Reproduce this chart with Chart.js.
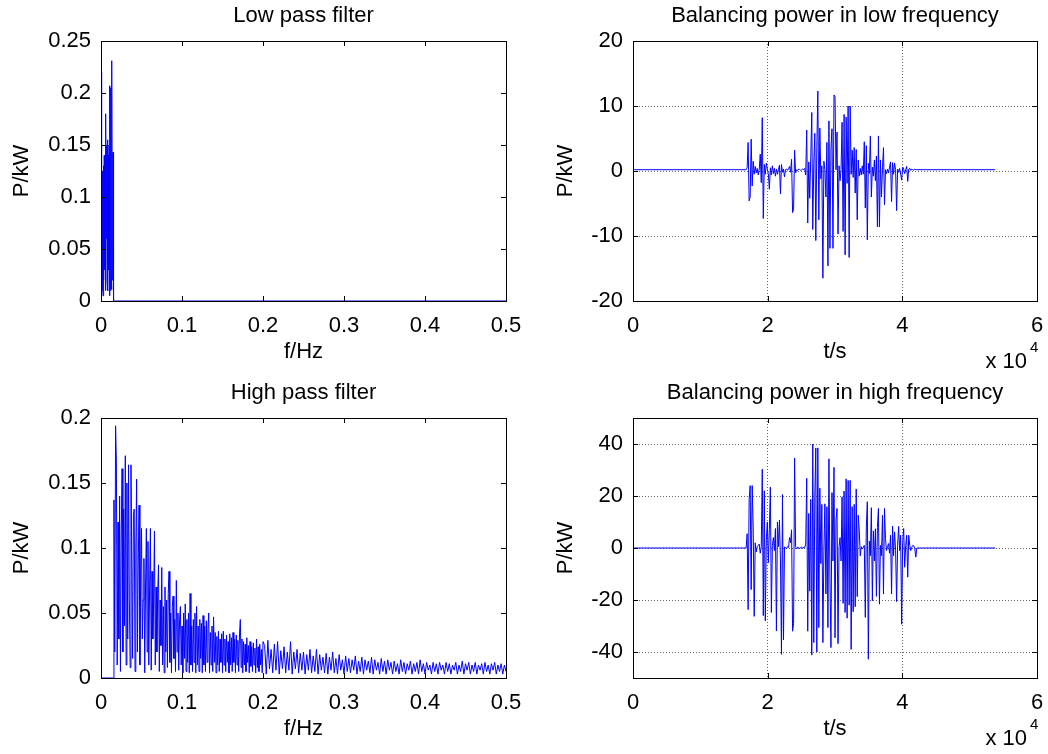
<!DOCTYPE html>
<html>
<head>
<meta charset="utf-8">
<title>Low / high pass filter balancing power</title>
<script src="https://cdn.jsdelivr.net/npm/chart.js@4.4.0/dist/chart.umd.min.js"></script>
<style>
  body { margin: 0; background: #fff; }
  #wrap { position: relative; width: 1048px; height: 754px; }
  canvas { position: absolute; }
</style>
</head>
<body>
<div id="wrap">
  <canvas id="lowSpec" width="524" height="377" style="left:0;top:0"></canvas>
  <canvas id="lowTime" width="524" height="377" style="left:524px;top:0"></canvas>
  <canvas id="highSpec" width="524" height="377" style="left:0;top:377px"></canvas>
  <canvas id="highTime" width="524" height="377" style="left:524px;top:377px"></canvas>
</div>
<script>
// low pass filter spectrum (P/kW), one value every 0.0005 Hz from 0 Hz, zero afterwards
const lowSpecStep = 0.0005;
const lowSpecValues = [
  0.22, 0.005, 0.126, 0.01, 0.125, 0.005, 0.13, 0.02, 0.14, 0.03,
  0.14, 0.01, 0.18, 0.06, 0.15, 0.02, 0.155, 0.01, 0.14, 0.03,
  0.15, 0.005, 0.207, 0.01, 0.205, 0.03, 0.011, 0.231, 0.02, 0.143,
  0.143, 0
];
const specEnd = 0.5;

// high pass filter spectrum (P/kW): every 0.001 Hz from 0.014 Hz up to 0.2 Hz,
// then every 0.002 Hz from 0.202 Hz up to 0.5 Hz
const highSpecStart = 0.014;
const highSpecStep = 0.001;
const highSpecValues = [
  0, 0, 0.137, 0.02, 0.194, 0.167, 0.01, 0.12, 0.03, 0.14,
  0.005, 0.11, 0.161, 0.02, 0.13, 0.04, 0.171, 0.01, 0.15, 0.03,
  0.164, 0.06, 0.008, 0.164, 0.09, 0.015, 0.125, 0.13, 0.005, 0.1,
  0.153, 0.02, 0.09, 0.133, 0.01, 0.08, 0.115, 0.03, 0.06, 0.092,
  0.004, 0.07, 0.115, 0.02, 0.105, 0.01, 0.07, 0.115, 0.006, 0.082,
  0.03, 0.06, 0.113, 0.01, 0.07, 0.02, 0.065, 0.087, 0.005, 0.06,
  0.025, 0.085, 0.01, 0.055, 0.004, 0.07, 0.02, 0.06, 0.008, 0.065,
  0.082, 0.012, 0.05, 0.004, 0.055, 0.063, 0.015, 0.045, 0.005, 0.075,
  0.02, 0.05, 0.006, 0.045, 0.055, 0.01, 0.04, 0.004, 0.05, 0.015,
  0.057, 0.005, 0.045, 0.012, 0.05, 0.004, 0.065, 0.01, 0.04, 0.005,
  0.045, 0.012, 0.05, 0.004, 0.055, 0.01, 0.04, 0.005, 0.045, 0.015,
  0.042, 0.004, 0.048, 0.01, 0.04, 0.005, 0.044, 0.012, 0.038, 0.05,
  0.004, 0.035, 0.01, 0.04, 0.005, 0.047, 0.012, 0.035, 0.004, 0.032,
  0.01, 0.036, 0.005, 0.03, 0.012, 0.034, 0.004, 0.036, 0.01, 0.03,
  0.005, 0.033, 0.012, 0.028, 0.004, 0.034, 0.01, 0.031, 0.005, 0.035,
  0.012, 0.03, 0.004, 0.033, 0.01, 0.029, 0.005, 0.034, 0.045, 0.008,
  0.03, 0.004, 0.028, 0.01, 0.026, 0.005, 0.031, 0.012, 0.025, 0.004,
  0.028, 0.009, 0.024, 0.005, 0.027, 0.01, 0.023, 0.004, 0.03, 0.008,
  0.024, 0.005, 0.026, 0.01, 0.022, 0.004, 0.028
];
const highTailStart = 0.202;
const highTailStep = 0.002;
const highTailValues = [
  0.025, 0.003, 0.029, 0.007, 0.022, 0.004, 0.026,
  0.006, 0.028, 0.003, 0.021, 0.007, 0.024, 0.004, 0.02, 0.006, 0.028,
  0.003, 0.02, 0.007, 0.022, 0.004, 0.019, 0.006, 0.02, 0.003, 0.018,
  0.006, 0.022, 0.004, 0.017, 0.005, 0.022, 0.003, 0.018, 0.006, 0.016,
  0.004, 0.019, 0.003, 0.016, 0.006, 0.02, 0.004, 0.015, 0.003, 0.018,
  0.006, 0.014, 0.003, 0.017, 0.005, 0.015, 0.004, 0.014, 0.006, 0.017,
  0.003, 0.013, 0.005, 0.016, 0.003, 0.014, 0.006, 0.013, 0.004, 0.016,
  0.003, 0.014, 0.006, 0.012, 0.003, 0.015, 0.005, 0.013, 0.003, 0.014,
  0.006, 0.012, 0.003, 0.013, 0.005, 0.011, 0.003, 0.014, 0.005, 0.012,
  0.003, 0.011, 0.006, 0.013, 0.003, 0.011, 0.005, 0.012, 0.003, 0.014,
  0.005, 0.011, 0.003, 0.012, 0.006, 0.01, 0.003, 0.012, 0.005, 0.011,
  0.003, 0.012, 0.006, 0.01, 0.003, 0.012, 0.005, 0.011, 0.003, 0.01,
  0.006, 0.012, 0.003, 0.01, 0.005, 0.013, 0.003, 0.011, 0.006, 0.012,
  0.003, 0.01, 0.005, 0.012, 0.003, 0.01, 0.006, 0.011, 0.003, 0.012,
  0.005, 0.01, 0.003, 0.011, 0.006, 0.012, 0.003, 0.01, 0.005, 0.011,
  0.003, 0.01, 0.005
];

// balancing power (P/kW) over time; flat outside the active window,
// one value every 150 s inside it
const timeEnd = 53800;
const activeStart = 16800;
const activeStep = 150;
const lowBase = 0.2;
const lowPower = [
  0.2, 0.5, 4.4, -4.6, -4, 4.9, -2.3, 1.5, -0.5, 0.7,
  -0.3, 0.4, -0.6, 0.3, 2.6, -1.8, 8.2, -7.3, 1.0, -0.5,
  1.2, 0.3, -0.4, -2.8, 0.5, -0.6, 0.8, -0.4, 0.4, -0.8,
  0.3, -0.5, 0.2, 0.9, -3.5, 1, -0.2, 0.3, -0.9, 0.2,
  0.3, 0.1, 0.4, 0.7, -0.2, 1.8, -6.4, -5.9, 3.2, -0.3,
  0.2, 0.1, 0.3, 0.2, 0.1, 0.2, 0.3, 0.2, 0.4, -0.6,
  6.3, -8, 1.4, -4.2, 2.1, 9, -9, 1.2, 5.8, -10.7,
  3.5, 12.3, -7.5, 6.6, -1.2, 0.8, -16.5, 1.5, 0.2, -4,
  4.4, -14.6, 7.7, -11.9, 3.5, 6.5, -11.9, 11.7, 11.5, 0.2,
  6, -9.7, 0.8, -1.5, 0.2, 7.5, -9.3, 8.7, -12.9, 8.3,
  -1.9, 10, -13.3, 10, -0.5, 3.2, -1, 3.6, -3.4, 3.3,
  -7.5, 1.7, -0.8, 0.4, -0.6, 0.8, -0.5, 4.5, -5.7, 3.9,
  -10.6, 1.2, -0.4, 5.4, -4, 0.6, -0.8, 1.7, -1.5, 2.3,
  -8.6, 5.4, -8.6, 1.7, -4, 0.5, 3.6, -5.2, 0.2, -0.4,
  0.3, -0.3, 0.6, 1.4, -4.7, 1.3, -0.5, 1.2, 0.2, -6.1,
  0.3, -0.2, 0.4, -0.5, -1.4, 0.6, 0.3, -0.4, 0.2, 0.7,
  -1.6, 0.3, 0.4, 0.1, 0.3, 0.2, 0.1, 0.3, 0.2, 0.2
];
const highBase = 0;
const highPower = [
  0, 5.5, -23.7, 18.7, 24, -16, 24, 8, -26.3, 2,
  -1.5, 0.5, 1, 1.5, -2, 0.5, 30.3, -26, 22, -28,
  3, 10, -5.7, 7, 23.4, -24.8, 1, 4, -1, 7.5,
  -31.9, 10, 0.5, 10.7, -5, -40.9, 20.6, -35.4, 0.4, 0.2,
  -0.3, 0.5, 0.2, 4, 2, 7, -32, -29, 34.6, 0.5,
  -0.4, 0.3, 0.2, -0.3, 0.2, 0.4, -0.2, 0.3, 0.1, 1.5,
  26.8, -32, 13.3, -16.6, 18.7, -41.2, 40, -36.4, 19.7, 38.5,
  -40, 38.5, -30.6, 23, -6, 16.8, -36.4, -1.5, 17, -17.7,
  15.9, -30.6, 34.3, -12, -38.3, 21.3, -5, 31, -34.5, 10.8,
  15.2, -36.8, 0.5, 4, -5, 19.7, -21.3, 21.9, -24.8, 26.6,
  -27, 26, -22, 26, -39, 15.9, -24.5, 16.8, -22.6, 22.7,
  -18.7, 12.6, 7, -3, 0.5, -0.4, 0.3, 1, -26.7, 7.7,
  17.8, -42.8, 2.7, -3, 15.5, -20.3, 6.6, -5, 7.4, -18.6,
  7.9, 15.2, -21.6, 1, -3, 12.6, -17.7, 15.2, 3.6, -1,
  0.5, 1.7, -2, 4.9, -17.7, 8.4, -3, 6.2, -1, -20.6,
  1, 8.3, -1, 4.9, -29.3, 2, 7.5, -7.4, 1, 4.9,
  -11.2, 4.9, 1, -1, 0.3, 1, 0.8, -0.3, -3.5, 0
];

// axis ticks
const freqTicks = [0, 0.1, 0.2, 0.3, 0.4, 0.5];
const lowSpecTicks = [0, 0.05, 0.1, 0.15, 0.2, 0.25];
const highSpecTicks = [0, 0.05, 0.1, 0.15, 0.2];
const timeTicks = [0, 20000, 40000, 60000];
const lowPowerTicks = [-20, -10, 0, 10, 20];
const highPowerTicks = [-40, -20, 0, 20, 40];

const FONT = '"Liberation Sans", Arial, sans-serif';
Chart.defaults.font.family = FONT;
Chart.defaults.color = '#000';

// matlab style box: frame, inward ticks on all sides, x 10^4 note
const matlabBox = {
  id: 'matlabBox',
  afterDraw(chart, args, opts) {
    const { ctx, chartArea: a, scales: { x, y } } = chart;
    ctx.save();
    ctx.strokeStyle = '#000';
    ctx.lineWidth = 1;
    ctx.setLineDash([]);
    ctx.strokeRect(a.left + 0.5, a.top + 0.5, a.right - a.left, a.bottom - a.top);
    const len = 5;
    ctx.beginPath();
    x.ticks.forEach(t => {
      const px = Math.round(x.getPixelForValue(t.value)) + 0.5;
      ctx.moveTo(px, a.bottom); ctx.lineTo(px, a.bottom - len);
      ctx.moveTo(px, a.top); ctx.lineTo(px, a.top + len);
    });
    y.ticks.forEach(t => {
      const py = Math.round(y.getPixelForValue(t.value)) + 0.5;
      ctx.moveTo(a.left, py); ctx.lineTo(a.left + len, py);
      ctx.moveTo(a.right, py); ctx.lineTo(a.right - len, py);
    });
    ctx.stroke();
    if (opts.exponent) {
      ctx.fillStyle = '#000';
      ctx.font = '22px ' + FONT;
      ctx.textAlign = 'right';
      ctx.textBaseline = 'alphabetic';
      ctx.fillText('x 10', a.right - 10, a.bottom + 67);
      ctx.font = '15px ' + FONT;
      ctx.textAlign = 'left';
      ctx.fillText(opts.exponent, a.right - 7, a.bottom + 51);
    }
    ctx.restore();
  }
};

function fixedTicks(list) {
  return scale => { scale.ticks = list.map(v => ({ value: v })); };
}

function makeChart(id, c) {
  return new Chart(document.getElementById(id), {
    type: 'line',
    data: {
      datasets: [{
        data: c.points,
        borderColor: '#0000ff',
        borderWidth: 1,
        pointRadius: 0,
        tension: 0
      }]
    },
    options: {
      responsive: false,
      animation: false,
      events: [],
      layout: { padding: { left: 0, right: c.padRight, top: 0, bottom: 0 } },
      plugins: {
        legend: { display: false },
        tooltip: { enabled: false },
        title: {
          display: true,
          text: c.title,
          fullSize: false,
          color: '#000',
          font: { size: 22, weight: 'normal' },
          padding: { top: 3, bottom: 11.6 }
        },
        matlabBox: { exponent: c.exponent }
      },
      scales: {
        x: {
          type: 'linear',
          min: c.xMin, max: c.xMax,
          afterBuildTicks: fixedTicks(c.xTicks),
          afterFit: s => { s.height = 76; s.paddingLeft = 0; s.paddingRight = 0; },
          grid: { display: c.grid, drawTicks: false, color: '#666', lineWidth: 1 },
          border: { display: false, dash: [1, 2] },
          ticks: { font: { size: 22 }, padding: 12, maxRotation: 0, autoSkip: false, callback: c.xFormat },
          title: { display: true, text: c.xTitle, font: { size: 22 }, padding: { top: 0, bottom: 12 } }
        },
        y: {
          type: 'linear',
          min: c.yMin, max: c.yMax,
          afterBuildTicks: fixedTicks(c.yTicks),
          afterFit: s => { s.width = c.yWidth; s.paddingTop = 0; s.paddingBottom = 0; },
          grid: { display: c.grid, drawTicks: false, color: '#666', lineWidth: 1 },
          border: { display: false, dash: [1, 2] },
          ticks: { font: { size: 22 }, padding: 10, autoSkip: false, callback: v => String(v) },
          title: { display: true, text: 'P/kW', font: { size: 22 }, padding: { top: c.yTitlePad, bottom: 0 } }
        }
      }
    },
    plugins: [matlabBox]
  });
}

const lowSpecPts = lowSpecValues.map((v, i) => ({ x: i * lowSpecStep, y: v }))
  .concat([{ x: specEnd, y: 0 }]);
const highSpecPts = [{ x: 0, y: 0 }]
  .concat(highSpecValues.map((v, i) => ({ x: highSpecStart + i * highSpecStep, y: v })))
  .concat(highTailValues.map((v, i) => ({ x: highTailStart + i * highTailStep, y: v })));

function timePoints(base, values) {
  const pts = [{ x: 0, y: base }];
  values.forEach((v, i) => pts.push({ x: activeStart + i * activeStep, y: v }));
  pts.push({ x: timeEnd, y: base });
  return pts;
}

const freqFormat = v => String(v);
const timeFormat = v => String(v / 10000);

makeChart('lowSpec', {
  title: 'Low pass filter', points: lowSpecPts,
  xMin: 0, xMax: 0.5, xTicks: freqTicks, xFormat: freqFormat, xTitle: 'f/Hz',
  yMin: 0, yMax: 0.25, yTicks: lowSpecTicks, yWidth: 101, yTitlePad: 9,
  padRight: 18, grid: false
});
makeChart('lowTime', {
  title: 'Balancing power in low frequency', points: timePoints(lowBase, lowPower),
  xMin: 0, xMax: 60000, xTicks: timeTicks, xFormat: timeFormat, xTitle: 't/s',
  yMin: -20, yMax: 20, yTicks: lowPowerTicks, yWidth: 109, yTitlePad: 29,
  padRight: 11, grid: true, exponent: '4'
});
makeChart('highSpec', {
  title: 'High pass filter', points: highSpecPts,
  xMin: 0, xMax: 0.5, xTicks: freqTicks, xFormat: freqFormat, xTitle: 'f/Hz',
  yMin: 0, yMax: 0.2, yTicks: highSpecTicks, yWidth: 101, yTitlePad: 9,
  padRight: 18, grid: false
});
makeChart('highTime', {
  title: 'Balancing power in high frequency', points: timePoints(highBase, highPower),
  xMin: 0, xMax: 60000, xTicks: timeTicks, xFormat: timeFormat, xTitle: 't/s',
  yMin: -50, yMax: 50, yTicks: highPowerTicks, yWidth: 109, yTitlePad: 29,
  padRight: 11, grid: true, exponent: '4'
});
</script>
</body>
</html>
